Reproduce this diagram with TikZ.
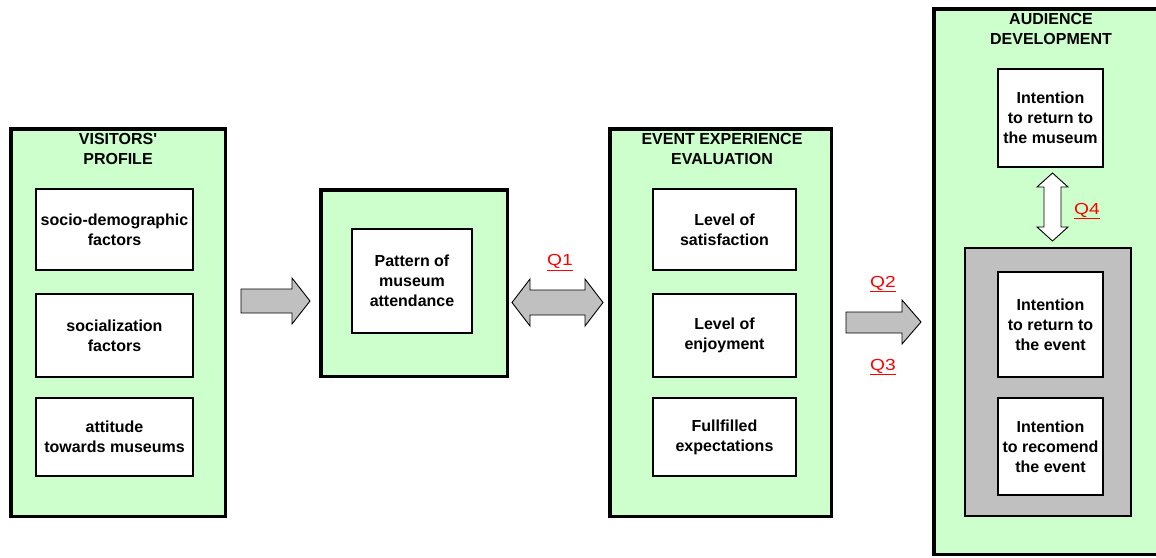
\documentclass[tikz,border=0pt]{standalone}
\usepackage{fontspec}
\setmainfont{Liberation Sans}
\newfontfamily\qfont{Liberation Sans}[FakeStretch=1.2]
\definecolor{boxgreen}{HTML}{CCFFCC}
\definecolor{boxgray}{HTML}{C0C0C0}
\definecolor{qred}{HTML}{FF0000}
\tikzset{
  outerbox/.style={draw=black, line width=3.5pt, fill=boxgreen, inner sep=0pt},
  innerbox/.style={draw=black, line width=2.2pt, fill=white, inner sep=0pt, align=center,
    font=\fontsize{16}{20}\selectfont\bfseries},
  graybox/.style={draw=black, line width=2pt, fill=boxgray, inner sep=0pt},
  titletext/.style={anchor=north, inner sep=0pt, align=center,
    font=\fontsize{16}{20}\selectfont\bfseries},
  qlabel/.style={anchor=base, inner sep=0pt, text=qred, font=\qfont\fontsize{16}{20}\selectfont},
  blockarrow/.style={draw=black, line width=0.9pt, fill=boxgray, line join=miter},
  whitearrow/.style={draw=black, line width=0.9pt, fill=white, line join=miter}
}
\newcommand{\qul}[1]{\underline{#1}}
\begin{document}
\begin{tikzpicture}[x=1pt, y=-1pt]
\useasboundingbox (0,0) rectangle (1156,557);
\clip (0,0) rectangle (1156,557);

% outer green boxes
\node[outerbox, minimum width=214.5pt, minimum height=387.5pt] (visitors) at (118,322.5) {};
\node[outerbox, minimum width=186.5pt, minimum height=186.5pt] (pattern) at (414,283) {};
\node[outerbox, minimum width=221.5pt, minimum height=387.5pt] (event) at (720.5,322.5) {};
\node[outerbox, minimum width=234.5pt, minimum height=545.5pt] (audience) at (1051,281.5) {};

% titles
\node[titletext] (tvis) at (118,133) {VISITORS\textquotesingle\\PROFILE};
\node[titletext] (tevt) at (722,133) {EVENT EXPERIENCE\\EVALUATION};
\node[titletext] (taud) at (1051,13) {AUDIENCE\\DEVELOPMENT};

% gray group
\node[graybox, minimum width=166pt, minimum height=268pt] (intentgroup) at (1048,382) {};

% inner white boxes
\node[innerbox, minimum width=156.8pt, minimum height=80.8pt] (v1) at (114.5,229.5) {socio-demographic\\factors};
\node[innerbox, minimum width=156.8pt, minimum height=82.8pt] (v2) at (114.5,335.5) {socialization\\factors};
\node[innerbox, minimum width=156.8pt, minimum height=77.8pt] (v3) at (114.5,437) {attitude\\towards museums};

\node[innerbox, minimum width=119.8pt, minimum height=103.8pt] (p1) at (412,281) {Pattern of\\museum\\attendance};

\node[innerbox, minimum width=142.8pt, minimum height=80.8pt] (e1) at (724.5,229.5) {Level of\\satisfaction};
\node[innerbox, minimum width=142.8pt, minimum height=82.8pt] (e2) at (724.5,335.5) {Level of\\enjoyment};
\node[innerbox, minimum width=142.8pt, minimum height=77.8pt] (e3) at (724.5,437) {Fullfilled\\expectations};

\node[innerbox, minimum width=104.8pt, minimum height=97.8pt] (a1) at (1050.5,118) {Intention\\to return to\\the museum};
\node[innerbox, minimum width=104.8pt, minimum height=104.8pt] (a2) at (1050.5,324.5) {Intention\\to return to\\the event};
\node[innerbox, minimum width=104.8pt, minimum height=96.8pt] (a3) at (1050.5,446.5) {Intention\\to recomend\\the event};

% block arrows
\draw[blockarrow] (241,289) -- (292,289) -- (292,278) -- (310,301) -- (292,324) -- (292,313) -- (241,313) -- cycle;
\draw[blockarrow] (512,302.5) -- (530,279) -- (530,290) -- (585,290) -- (585,279) -- (603,302.5) -- (585,326) -- (585,315) -- (530,315) -- (530,326) -- cycle;
\draw[blockarrow] (846,312) -- (902,312) -- (902,300) -- (921,322) -- (902,344) -- (902,333) -- (846,333) -- cycle;
\draw[whitearrow] (1052.5,173) -- (1068,187) -- (1061,187) -- (1061,227) -- (1068,227) -- (1052.5,241) -- (1037,227) -- (1044,227) -- (1044,187) -- (1037,187) -- cycle;

% question labels
\node[qlabel] (q1) at (560,265.5) {\qul{Q1}};
\node[qlabel] (q2) at (883,287) {\qul{Q2}};
\node[qlabel] (q3) at (883,370) {\qul{Q3}};
\node[qlabel] (q4) at (1087,214) {\qul{Q4}};
\end{tikzpicture}
\end{document}
